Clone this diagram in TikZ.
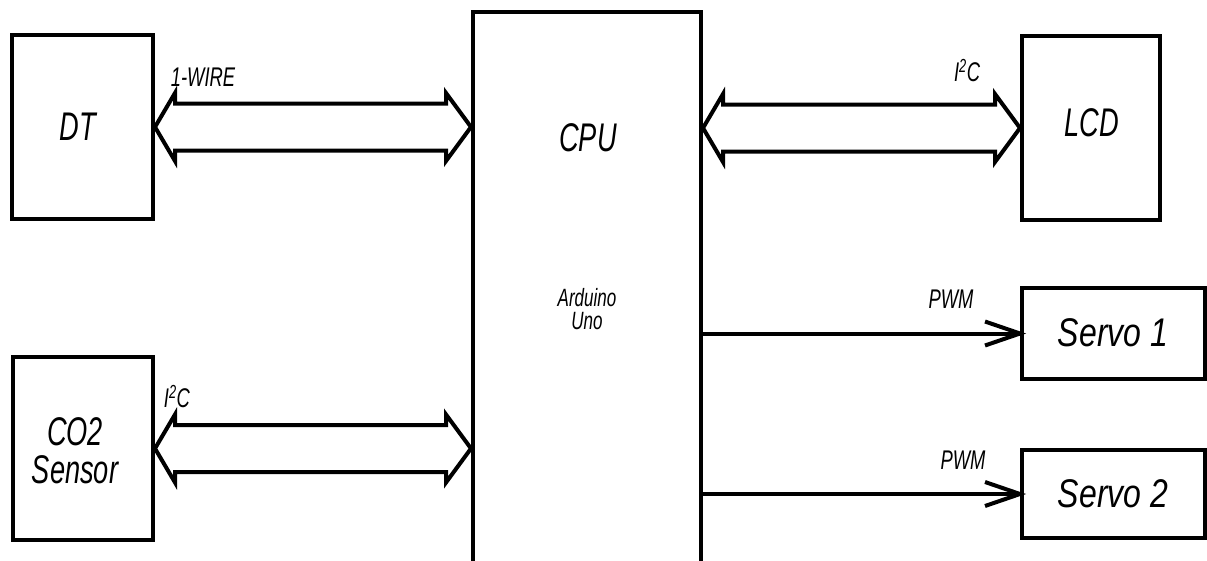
\documentclass[tikz,border=0pt]{standalone}
\usepackage{fontspec}
\newfontfamily\gost[FakeStretch=0.68]{Liberation Sans}
\newfontfamily\gostw[FakeStretch=0.8]{Liberation Sans}
\usetikzlibrary{calc}
\tikzset{
  blk/.style={draw=black, line width=4pt, rectangle, inner sep=0pt},
  line/.style={draw=black, line width=4pt, line join=miter},
  bus/.style={draw=black, line width=4pt, line join=miter},
  big/.style={font=\gost\itshape\fontsize{40}{38}\selectfont, inner sep=0pt},
  bigw/.style={font=\gostw\itshape\fontsize{40}{38}\selectfont, inner sep=0pt},
  mid/.style={font=\gost\itshape\fontsize{25}{23}\selectfont, inner sep=0pt},
  lbl/.style={font=\gost\itshape\fontsize{27}{28}\selectfont, inner sep=0pt},
}
\newcommand\busarrow[2]{%
  \draw[bus] (#1) -- ++(20,-34) -- ++(0,10.5) -- ($(#2)+(-25,-23.5)$) -- ++(0,-10.5) -- (#2)
    -- ++(-25,34) -- ++(0,-10.5) -- ($(#1)+(20,23.5)$) -- ++(0,10.5) -- cycle;}
\begin{document}
\begin{tikzpicture}[x=1pt,y=-1pt]
\clip (0,0) rectangle (1207,560);
\fill[white] (0,0) rectangle (1207,560);
% blocks
\node[blk, minimum width=141pt, minimum height=184pt] (dt) at (82.5,127) {};
\node[blk, minimum width=140pt, minimum height=183pt] (co) at (83,448.5) {};
\node[blk, minimum width=228pt, minimum height=570pt] (cpu) at (587,297) {};
\node[blk, minimum width=138pt, minimum height=184pt] (lcd) at (1091,128) {};
\node[blk, minimum width=183pt, minimum height=91pt] (s1) at (1113.5,333.5) {};
\node[blk, minimum width=183pt, minimum height=88pt] (s2) at (1113.5,494) {};
% texts
\node[big] (tdt) at (78,127) {DT};
\node[big] (tcpu) at (588,138) {CPU};
\node[mid, align=center] (tard) at (587,309) {Arduino\\Uno};
\node[big] (tlcd) at (1092,123) {LCD};
\node[big, align=center] (tco) at (75,451) {CO2\\Sensor};
\node[bigw] (ts1) at (1113,333) {Servo 1};
\node[bigw] (ts2) at (1113,494) {Servo 2};
% labels
\node[lbl] (l1) at (203,77) {1-WIRE};
\node[lbl] (l2) at (967,71) {I\textsuperscript{2}C};
\node[lbl] (l3) at (177,397) {I\textsuperscript{2}C};
\node[lbl] (l4) at (951,299) {PWM};
\node[lbl] (l5) at (963,460) {PWM};
% buses
\coordinate (a1) at (dt.east);
\coordinate (b1) at (cpu.west|-dt.east);
\busarrow{a1}{b1}
\coordinate (a2) at (cpu.east|-lcd.west);
\coordinate (b2) at (lcd.west);
\busarrow{a2}{b2}
\coordinate (a3) at (co.east);
\coordinate (b3) at (cpu.west|-co.east);
\busarrow{a3}{b3}
% PWM lines
\draw[line] (cpu.east|-s1.west) -- (s1.west);
\draw[line] ($(s1.west)+(-35,-12)$) -- (s1.west) -- ($(s1.west)+(-35,12)$);
\draw[line] (cpu.east|-s2.west) -- (s2.west);
\draw[line] ($(s2.west)+(-35,-12)$) -- (s2.west) -- ($(s2.west)+(-35,12)$);
\end{tikzpicture}
\end{document}
